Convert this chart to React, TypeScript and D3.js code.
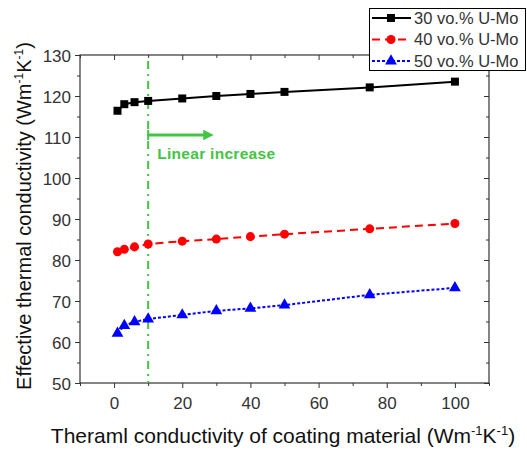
import React, { useEffect, useRef } from 'react';
import * as d3 from 'd3';

// coating conductivity (x) and effective conductivity per U-Mo loading
const coatingK = [1, 3, 6, 10, 20, 30, 40, 50, 75, 100];
const umo30 = [116.4, 118.0, 118.5, 118.8, 119.4, 120.0, 120.5, 121.0, 122.1, 123.5];
const umo40 = [82.0, 82.6, 83.2, 83.9, 84.6, 85.1, 85.7, 86.3, 87.6, 88.9];
const umo50 = [62.1, 64.0, 64.9, 65.6, 66.6, 67.6, 68.2, 69.0, 71.5, 73.2];
const seriesNames = ['30 vo.% U-Mo', '40 vo.% U-Mo', '50 vo.% U-Mo'];
const xTicks = [0, 20, 40, 60, 80, 100];
const yTicks = [50, 60, 70, 80, 90, 100, 110, 120, 130];
const linearStart = 10;

const W = 527;
const H = 451;
const margin = { left: 80, right: 38, top: 55, bottom: 68 };
const font = 'Arial, "Liberation Sans", sans-serif';

const App = () => {
    const ref = useRef<SVGSVGElement>(null);

    useEffect(() => {
        const svg = d3.select(ref.current);
        svg.selectAll('*').remove();

        const x = d3.scaleLinear().domain([-10, 110]).range([margin.left, W - margin.right]);
        const y = d3.scaleLinear().domain([50, 130]).range([H - margin.bottom, margin.top]);
        const x0 = margin.left, x1 = W - margin.right, y0 = H - margin.bottom, y1 = margin.top;
        const minorX = [-10, 10, 30, 50, 70, 90, 110];
        const minorY = [55, 65, 75, 85, 95, 105, 115, 125];

        // frame
        svg.append('rect')
            .attr('x', x0).attr('y', y1)
            .attr('width', x1 - x0).attr('height', y0 - y1)
            .attr('fill', 'none').attr('stroke', '#333').attr('stroke-width', 1.2);

        // bottom + left axes, ticks outward
        const bottom = svg.append('g').attr('transform', `translate(0,${y0})`)
            .call(d3.axisBottom(x).tickValues(xTicks).tickSize(5).tickPadding(7));
        svg.append('g').attr('transform', `translate(0,${y0})`)
            .call(d3.axisBottom(x).tickValues(minorX).tickSize(3).tickFormat(() => ''));
        const left = svg.append('g').attr('transform', `translate(${x0},0)`)
            .call(d3.axisLeft(y).tickValues(yTicks).tickSize(5).tickPadding(4));
        svg.append('g').attr('transform', `translate(${x0},0)`)
            .call(d3.axisLeft(y).tickValues(minorY).tickSize(3).tickFormat(() => ''));
        // top + right, ticks inward
        svg.append('g').attr('transform', `translate(0,${y1})`)
            .call(d3.axisBottom(x).tickValues(xTicks).tickSize(5).tickFormat(() => ''));
        svg.append('g').attr('transform', `translate(0,${y1})`)
            .call(d3.axisBottom(x).tickValues(minorX).tickSize(3).tickFormat(() => ''));
        svg.append('g').attr('transform', `translate(${x1},0)`)
            .call(d3.axisLeft(y).tickValues(yTicks).tickSize(5).tickFormat(() => ''));
        svg.append('g').attr('transform', `translate(${x1},0)`)
            .call(d3.axisLeft(y).tickValues(minorY).tickSize(3).tickFormat(() => ''));

        svg.selectAll('.domain').remove();
        svg.selectAll('.tick line').attr('stroke', '#333');
        svg.selectAll('.tick text')
            .attr('font-family', font).attr('font-size', 17).attr('fill', '#333');
        bottom.selectAll('.tick text').attr('dy', '0.8em');
        left.selectAll('.tick text').attr('dy', '0.36em');

        // green guide line
        svg.append('line')
            .attr('x1', x(linearStart)).attr('x2', x(linearStart))
            .attr('y1', y(130) + 6).attr('y2', y(50))
            .attr('stroke', '#44c444').attr('stroke-width', 2)
            .attr('stroke-dasharray', '8,5,2,5');

        // arrow + label
        const ay = 135;
        svg.append('defs').append('marker')
            .attr('id', 'arr').attr('viewBox', '0 0 10 10')
            .attr('refX', 2).attr('refY', 5)
            .attr('markerWidth', 4).attr('markerHeight', 3.5)
            .attr('orient', 'auto')
            .append('path').attr('d', 'M0,0L10,5L0,10Z').attr('fill', '#44c444');
        svg.append('line')
            .attr('x1', x(linearStart)).attr('x2', x(30) - 11)
            .attr('y1', ay).attr('y2', ay)
            .attr('stroke', '#44c444').attr('stroke-width', 3)
            .attr('marker-end', 'url(#arr)');
        svg.append('line')
            .attr('x1', x(linearStart)).attr('x2', x(linearStart))
            .attr('y1', ay - 5).attr('y2', ay + 5)
            .attr('stroke', '#44c444').attr('stroke-width', 2);
        svg.append('text')
            .attr('x', x(linearStart) + 9).attr('y', 159)
            .attr('font-family', font).attr('font-size', 15.5).attr('font-weight', 'bold')
            .attr('fill', '#44c444').attr('letter-spacing', 0.3).text('Linear increase');

        // series
        const styles = [
            { data: umo30, color: '#000', dash: null, shape: d3.symbolSquare, size: 64 },
            { data: umo40, color: '#ff0000', dash: '8,5', shape: d3.symbolCircle, size: 64 },
            { data: umo50, color: '#0000ff', dash: '3,2', shape: d3.symbolTriangle, size: 60 },
        ];
        const line = d3.line<number>().x((_, i) => x(coatingK[i])).y(d => y(d));
        styles.forEach(s => {
            svg.append('path')
                .attr('d', line(s.data))
                .attr('fill', 'none').attr('stroke', s.color).attr('stroke-width', 2)
                .attr('stroke-dasharray', s.dash);
            svg.append('g').selectAll('path')
                .data(s.data).enter().append('path')
                .attr('transform', (d, i) => `translate(${x(coatingK[i])},${y(d)})`)
                .attr('d', d3.symbol().type(s.shape).size(s.size)())
                .attr('fill', s.color);
        });

        // legend
        const lg = svg.append('g');
        lg.append('rect').attr('x', 369.5).attr('y', 8.5).attr('width', 156).attr('height', 62)
            .attr('fill', '#fff').attr('stroke', '#000').attr('stroke-width', 1);
        styles.forEach((s, i) => {
            const ly = 18 + i * 21.5;
            lg.append('line').attr('x1', 372).attr('x2', 411).attr('y1', ly).attr('y2', ly)
                .attr('stroke', s.color).attr('stroke-width', 2).attr('stroke-dasharray', s.dash);
            lg.append('path').attr('transform', `translate(391,${ly})`)
                .attr('d', d3.symbol().type(s.shape).size(s.size)()).attr('fill', s.color);
            lg.append('text').attr('x', 414).attr('y', ly).attr('dy', '0.36em')
                .attr('font-family', font).attr('font-size', 16.5).attr('fill', '#333')
                .text(seriesNames[i]);
        });

        // axis titles
        const xt = svg.append('text')
            .attr('x', 283).attr('y', 443).attr('text-anchor', 'middle')
            .attr('font-family', font).attr('font-size', 21).attr('fill', '#111');
        xt.append('tspan').text('Theraml conductivity of coating material (Wm');
        xt.append('tspan').attr('dy', -8).attr('font-size', 13).text('-1');
        xt.append('tspan').attr('dy', 8).text('K');
        xt.append('tspan').attr('dy', -8).attr('font-size', 13).text('-1');
        xt.append('tspan').attr('dy', 8).text(')');

        const yt = svg.append('text')
            .attr('transform', `translate(31,216) rotate(-90)`)
            .attr('text-anchor', 'middle')
            .attr('font-family', font).attr('font-size', 20).attr('fill', '#111');
        yt.append('tspan').text('Effective thermal conductivity (Wm');
        yt.append('tspan').attr('dy', -8).attr('font-size', 12).text('-1');
        yt.append('tspan').attr('dy', 8).text('K');
        yt.append('tspan').attr('dy', -8).attr('font-size', 12).text('-1');
        yt.append('tspan').attr('dy', 8).text(')');
    }, []);

    return (
        <svg ref={ref} width={W} height={H}
            style={{ position: 'absolute', left: 0, top: 0, background: '#fff' }} />
    );
};

export default App;
